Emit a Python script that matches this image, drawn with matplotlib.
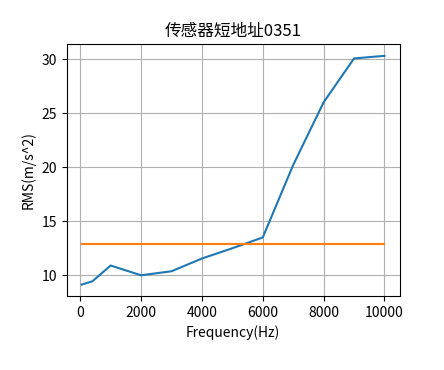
import matplotlib
matplotlib.use('Agg')
import matplotlib.pyplot as plt

plt.rcParams['font.family'] = ['Noto Sans CJK SC', 'DejaVu Sans']
plt.rcParams['axes.unicode_minus'] = False

# data
freq = [50, 400, 1000, 2000, 3000, 4000, 5000, 6000, 7000, 8000, 9000, 10000]
rms = [9.14, 9.44, 10.9, 10.0, 10.37, 11.55, 12.5, 13.5, 20.2, 26.0, 30.06, 30.3]
threshold = 12.87

fig = plt.figure(figsize=(4.44, 3.7), dpi=100)
ax = fig.add_subplot(111)
fig.subplots_adjust(left=0.15, right=0.9, top=0.88, bottom=0.2)

ax.plot(freq, rms)
ax.plot([freq[0], freq[-1]], [threshold, threshold])

ax.set_title('传感器短地址0351')
ax.set_xlabel('Frequency(Hz)')
ax.set_ylabel('RMS(m/s^2)')
ax.grid(True)

fig.savefig('out.png', dpi=100)
